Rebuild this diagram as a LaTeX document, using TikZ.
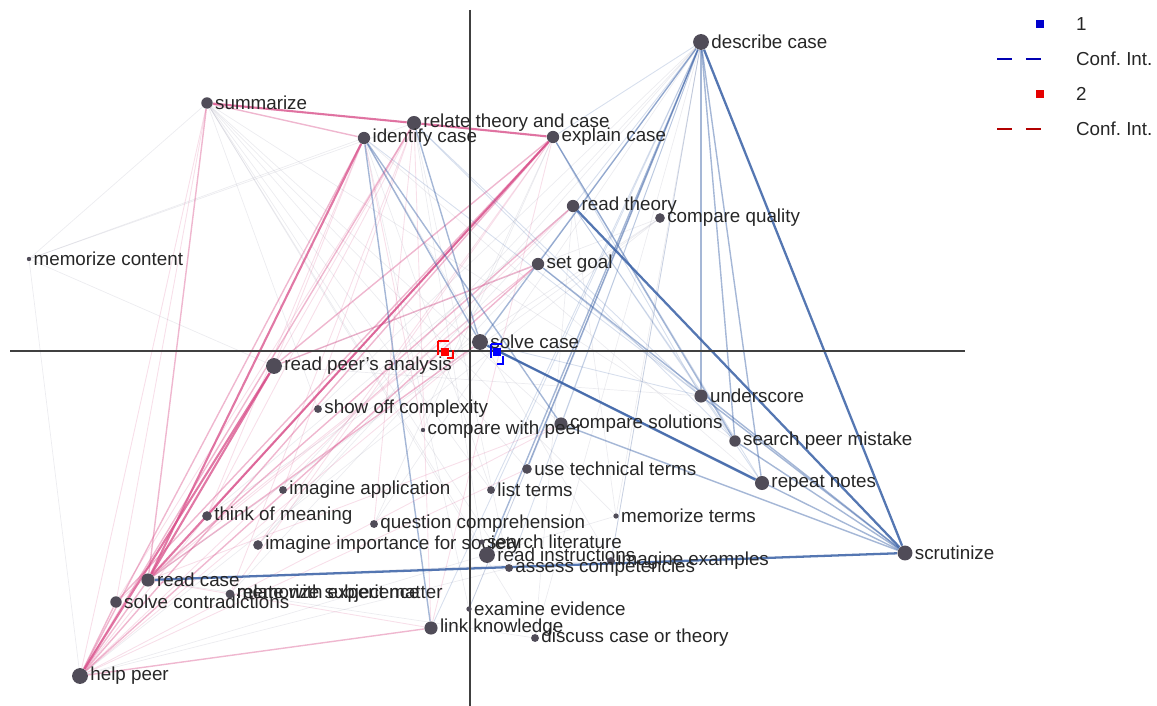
\documentclass[tikz,border=0pt]{standalone}
\usepackage{fontspec}
\setmainfont{Liberation Sans}
\definecolor{enablue}{RGB}{55,95,165}
\definecolor{enapink}{RGB}{215,75,135}
\definecolor{enadot}{RGB}{80,76,88}
\definecolor{enagrey}{RGB}{150,150,170}
\pgfdeclarelayer{bg}
\pgfsetlayers{bg,main}
\tikzset{
  dot/.style={circle, fill=enadot, inner sep=0pt, minimum size=#1},
  lbl/.style={inner sep=1pt, font=\fontsize{10.7}{12}\selectfont, text=black!85},
  bthick/.style={enablue, line width=1.3pt, opacity=.85},
  bmid/.style={enablue, line width=.8pt, opacity=.45},
  bthin/.style={enablue, line width=.5pt, opacity=.2},
  pthick/.style={enapink, line width=1.2pt, opacity=.75},
  pmid/.style={enapink, line width=.8pt, opacity=.4},
  pthin/.style={enapink, line width=.5pt, opacity=.18},
  gthin/.style={enagrey, line width=.4pt, opacity=.18},
  ci/.style={line width=.8pt, dash pattern=on 8pt off 7pt},
  legdash/.style={line width=.9pt, dash pattern=on 8.5pt off 8pt}
}
\begin{document}
\begin{tikzpicture}[x=0.02cm, y=-0.02cm]
  \useasboundingbox (0,0) rectangle (1157,706);
  % Conceitos (nos da rede)
  \foreach \n/\x/\y/\s/\lab in {
      desc/701/42/9/describe case, summ/207/103/6.5/summarize,
      relate/414/123/8/relate theory and case, ident/364/138/7/identify case,
      explain/553/137/7/explain case, readth/573/206/7/read theory,
      compq/660/218/5.5/compare quality, memcont/29/259/2.5/memorize content,
      setgoal/538/264/7/set goal, solve/480/342/9/solve case,
      readpeer/274/366/9/read peer's analysis, under/701/396/7.5/underscore,
      showoff/318/409/4.5/show off complexity, compsol/561/424/7.5/compare solutions,
      compwp/423/430/2.5/compare with peer, search/735/441/6.5/search peer mistake,
      usetech/527/469/5.5/use technical terms, repeat/762/483/8/repeat notes,
      imapp/283/490/4.5/imagine application, list/491/490/4.5/list terms,
      think/207/516/5.5/think of meaning, memterm/616/516/3/memorize terms,
      quest/374/524/4.5/question comprehension, imimp/258/545/5.5/imagine importance for society,
      seclit/482/542/3/search literature, readins/487/555/9/read instructions,
      scrut/905/553/8.5/scrutinize, imex/611/561/4.5/imagine examples,
      assess/509/568/4.5/assess competencies, readcase/148/580/7.5/read case,
      solvec/116/602/6.5/solve contradictions, memsubj/230/594/5/memorize subject matter,
      examine/469/609/3/examine evidence, link/431/628/7.5/link knowledge,
      discuss/535/638/4.5/discuss case or theory, help/80/676/9/help peer}
    \node[dot=\s pt, label={[lbl]right:\lab}] (\n) at (\x,\y) {};
  \node[lbl, right] (relexp) at (memsubj.east) {relate with experience};
  \begin{pgfonlayer}{bg}
    % Ligacoes fracas (cinza)
    \foreach \a/\b in {memcont/summ, memcont/readpeer, memcont/relate, memcont/help,
        memcont/ident, quest/desc, memterm/desc, memterm/readth, imex/desc, discuss/desc,
        discuss/readth, examine/ident, list/ident, compwp/explain, showoff/desc,
        imimp/readth, readins/summ, assess/relate, showoff/summ, compq/readcase,
        compq/help, usetech/summ, imapp/desc, list/summ, memsubj/setgoal, discuss/summ,
        quest/explain, imex/ident, memterm/summ, assess/summ, examine/desc, compq/readpeer,
        compq/think, imimp/desc, think/readth, seclit/relate, discuss/readcase, imex/readcase,
        memterm/help, assess/help, under/readpeer, compsol/summ, search/summ, repeat/ident}
      \draw[gthin] (\a) -- (\b);
    % Ligacoes rosa (grupo 2)
    \foreach \a/\b in {help/summ, summ/explain, readcase/link, help/readth, help/solve,
        think/relate, imapp/relate, solvec/relate, help/compsol, readpeer/relate,
        readcase/setgoal, readpeer/ident, link/explain, help/think, memsubj/explain,
        summ/solvec, think/ident, imimp/explain, quest/relate, link/relate, help/usetech,
        readcase/compsol, solvec/setgoal, memsubj/relate, compwp/ident}
      \draw[pthin] (\a) -- (\b);
    \foreach \a/\b in {help/explain, help/ident, help/setgoal, help/relate, help/readcase,
        help/solvec, summ/readcase, readpeer/explain, readpeer/setgoal, solvec/explain,
        readcase/readth, help/link, readcase/solve, summ/ident, think/explain}
      \draw[pmid] (\a) -- (\b);
    \foreach \a/\b in {summ/relate, relate/explain, readcase/explain, readcase/ident,
        help/readpeer, readcase/readpeer}
      \draw[pthick] (\a) -- (\b);
    % Ligacoes azuis (grupo 1)
    \foreach \a/\b in {desc/list, desc/link, desc/assess, desc/explain, desc/readth,
        desc/setgoal, desc/compsol, desc/examine, readth/search, setgoal/under,
        explain/under, relate/search, solve/under, readth/repeat, explain/repeat,
        relate/under, desc/imex, ident/under}
      \draw[bthin] (\a) -- (\b);
    \foreach \a/\b in {desc/repeat, desc/under, ident/solve, ident/link, desc/solve,
        desc/usetech, desc/readins, desc/search, under/scrut, search/scrut, compsol/scrut,
        setgoal/scrut, explain/search, solve/scrut, relate/solve, ident/compsol}
      \draw[bmid] (\a) -- (\b);
    \foreach \a/\b in {desc/scrut, solve/repeat, readcase/scrut, readth/scrut}
      \draw[bthick] (\a) -- (\b);
    % Eixos
    \draw[black!75, line width=.7pt] (470,10) -- (470,706);
    \draw[black!75, line width=.7pt] (10,351) -- (965,351);
  \end{pgfonlayer}
  % Medias e intervalos de confianca
  \draw[ci, red] (438,341) rectangle (453,358);
  \draw[ci, blue] (491,344) rectangle (503,364);
  \node[fill=red, inner sep=0pt, minimum size=5pt] (m2) at (445,352) {};
  \node[fill=blue, inner sep=0pt, minimum size=5pt] (m1) at (497,352) {};
  % Legenda
  \node[fill=blue!80!black, inner sep=0pt, minimum size=4.5pt] (leg1) at (1040,24) {};
  \node[lbl, right] (leg1t) at (1074,24) {1};
  \draw[legdash, blue!70!black] (997,59) -- (1045,59);
  \node[lbl, right] (leg2t) at (1074,59) {Conf.\ Int.};
  \node[fill=red!90!black, inner sep=0pt, minimum size=4.5pt] (leg3) at (1040,94) {};
  \node[lbl, right] (leg3t) at (1074,94) {2};
  \draw[legdash, red!70!black] (997,129) -- (1045,129);
  \node[lbl, right] (leg4t) at (1074,129) {Conf.\ Int.};
\end{tikzpicture}
\end{document}
